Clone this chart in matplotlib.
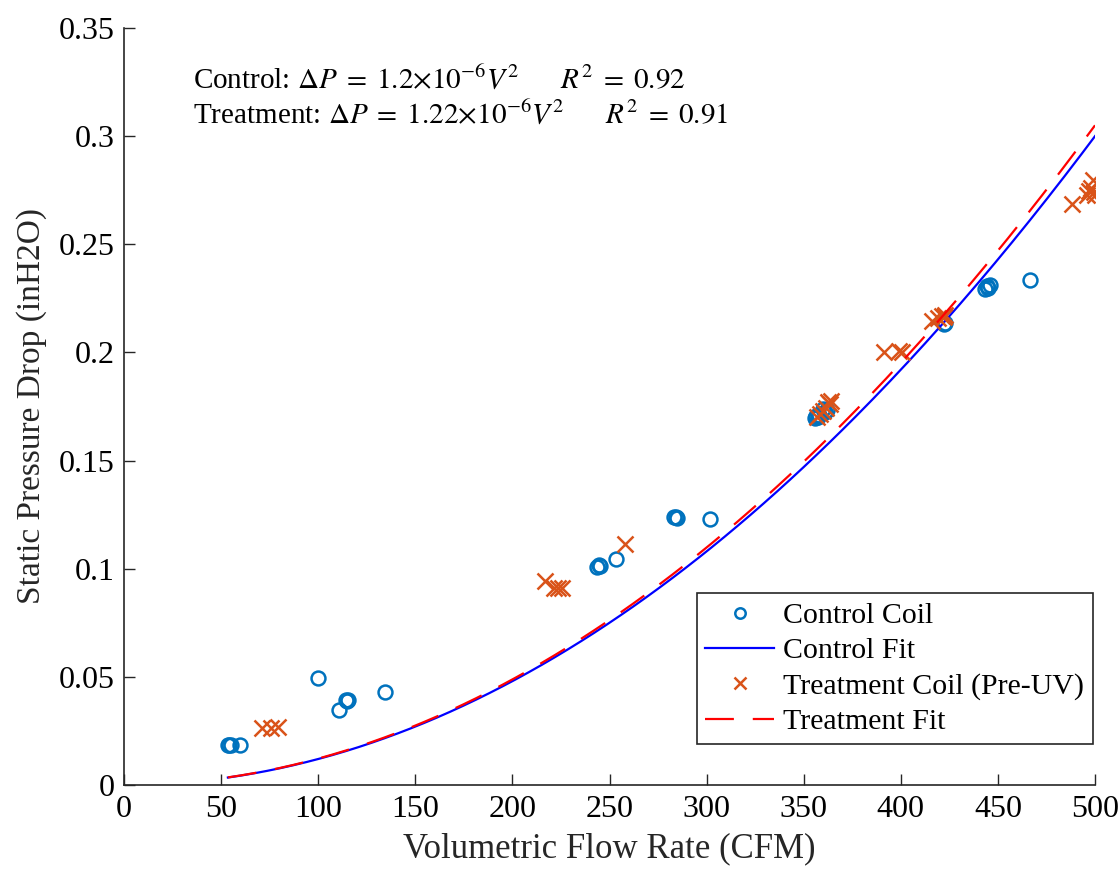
import matplotlib
matplotlib.use("Agg")
import matplotlib.pyplot as plt
import numpy as np

plt.rcParams['font.family'] = ['Liberation Serif', 'DejaVu Serif']
plt.rcParams['mathtext.fontset'] = 'stix'

# control coil measurements (CFM, inH2O)
control_flow = [53.5, 54.2, 55.0, 59.8, 100.0, 110.7, 114.3, 114.8, 115.2, 134.6,
                243.8, 244.5, 245.2, 253.3, 283.3, 284.0, 284.6, 302.0,
                355.8, 356.5, 357.2, 358.0, 360.0, 361.0, 362.0,
                422.2, 423.0, 443.5, 444.2, 445.0, 445.8, 466.5]
control_dp = [0.0185, 0.0183, 0.0186, 0.0185, 0.0495, 0.0345, 0.0393, 0.0390, 0.0395, 0.0430,
              0.1010, 0.1015, 0.1012, 0.1045, 0.1238, 0.1240, 0.1236, 0.1228,
              0.1695, 0.1705, 0.1700, 0.1712, 0.1740, 0.1725, 0.1735,
              0.2130, 0.2135, 0.2295, 0.2305, 0.2300, 0.2312, 0.2335]

# treatment coil (pre-UV) measurements
treat_flow = [71.0, 75.5, 79.5, 217.0, 221.5, 223.5, 225.5, 258.0,
              357.0, 358.5, 360.0, 361.5, 362.5, 363.5, 364.0,
              391.5, 399.0, 400.5, 416.0, 419.0, 421.0, 423.0, 422.0,
              488.0, 496.0, 497.0, 498.0, 499.0, 500.0, 499.5]
treat_dp = [0.0262, 0.0262, 0.0268, 0.0942, 0.0910, 0.0910, 0.0910, 0.1112,
            0.1700, 0.1715, 0.1730, 0.1745, 0.1770, 0.1760, 0.1775,
            0.2002, 0.2008, 0.2000, 0.2145, 0.2160, 0.2170, 0.2175, 0.2165,
            0.2685, 0.2730, 0.2745, 0.2760, 0.2795, 0.2730, 0.2740]

# fit coefficients dP = k * V^2
k_control = 1.2e-6
k_treat = 1.22e-6
fit_v = np.linspace(53.5, 500, 200)

fig = plt.figure(figsize=(11.2, 8.75), dpi=100)
ax = fig.add_axes([0.1107, 0.1029, 0.867, 0.8651])

ax.plot(control_flow, control_dp, 'o', mfc='none', mec='#0072BD', ms=10, mew=1.8,
        label='Control Coil')
ax.plot(fit_v, k_control * fit_v**2, '-', color='b', lw=1.6, label='Control Fit')
ax.plot(treat_flow, treat_dp, 'x', color='#D95319', ms=12, mew=1.8,
        label='Treatment Coil (Pre-UV)')
ax.plot(fit_v, k_treat * fit_v**2, '--', color='r', lw=1.6, dashes=(13, 8.5),
        label='Treatment Fit')

ax.set_xlim(0, 500)
ax.set_ylim(0, 0.35)
ax.set_xticks(np.arange(0, 501, 50))
ax.set_yticks(np.arange(0, 0.351, 0.05))
ax.set_yticklabels(['0', '0.05', '0.1', '0.15', '0.2', '0.25', '0.3', '0.35'])
ax.tick_params(direction='in', length=8, width=1, labelsize=23, colors='#262626', pad=7)
for lab in ax.get_xticklabels() + ax.get_yticklabels():
    lab.set_color('black')
ax.spines['top'].set_visible(False)
ax.spines['right'].set_visible(False)
for s in ['left', 'bottom']:
    ax.spines[s].set_color('#262626')
    ax.spines[s].set_linewidth(1.2)

ax.set_xlabel('Volumetric Flow Rate (CFM)', fontsize=25, color='#262626', labelpad=6)
ax.set_ylabel('Static Pressure Drop (inH2O)', fontsize=24, color='#262626', labelpad=8)

ax.text(35.5, 0.3222, r'Control: $\Delta P\;=\;1.2{\times}10^{-6}V^{2}\quad\quad R^{2}\;=\;0.92$',
        fontsize=21, va='baseline')
ax.text(35.5, 0.3063, r'Treatment: $\Delta P\;=\;1.22{\times}10^{-6}V^{2}\quad\quad R^{2}\;=\;0.91$',
        fontsize=21, va='baseline')

leg = ax.legend(loc='lower right', bbox_to_anchor=(0.998, 0.054), fontsize=21.5,
                frameon=True, fancybox=False, edgecolor='#262626', framealpha=1,
                borderaxespad=0, handlelength=2.3, handletextpad=0.3,
                labelspacing=0.28, borderpad=0.3, markerscale=0.75)
leg.get_frame().set_linewidth(1.2)

fig.savefig('out.png', dpi=100)
